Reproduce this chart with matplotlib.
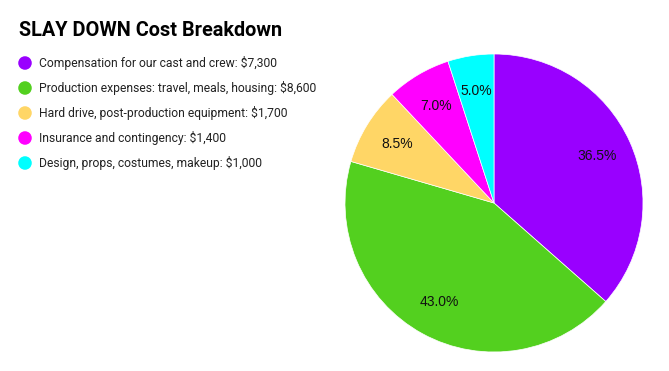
import matplotlib
matplotlib.use("Agg")
import matplotlib.pyplot as plt

labels = ["Compensation for our cast and crew: $7,300",
          "Production expenses: travel, meals, housing: $8,600",
          "Hard drive, post-production equipment: $1,700",
          "Insurance and contingency: $1,400",
          "Design, props, costumes, makeup: $1,000"]
values = [7300, 8600, 1700, 1400, 1000]
colors = ["#9900ff", "#53d01f", "#ffd666", "#ff00ff", "#00ffff"]

W, H = 669, 371
fig = plt.figure(figsize=(W / 100, H / 100), dpi=100)

# overlay axes in pixel coords for title + legend
ax0 = fig.add_axes([0, 0, 1, 1])
ax0.set_xlim(0, W)
ax0.set_ylim(H, 0)
ax0.axis("off")
ax0.text(19, 31, "SLAY DOWN Cost Breakdown", fontsize=14.3, fontweight="bold",
         family="Roboto", va="center", ha="left", color="#000000")
for i, (lab, c) in enumerate(zip(labels, colors)):
    y = 63 + i * 25
    ax0.scatter([25], [y], s=95, color=c, edgecolors="none")
    ax0.text(39, y, lab, fontsize=8.7, family="Roboto", va="center", ha="left",
             color="#222222")

# pie
cx, cy, r = 494, 203, 149
ax = fig.add_axes([(cx - r) / W, (H - cy - r) / H, 2 * r / W, 2 * r / H])
wedges, texts, autotexts = ax.pie(values, colors=colors, startangle=90, counterclock=False,
                                  autopct="%1.1f%%", pctdistance=0.76, radius=1,
                                  wedgeprops=dict(linewidth=0.5, edgecolor="white"),
                                  textprops=dict(fontsize=10, family="Liberation Sans",
                                                 color="#111111"))
ax.set_xlim(-1, 1)
ax.set_ylim(-1, 1)
ax.axis("off")

plt.savefig("out.png", dpi=100)
